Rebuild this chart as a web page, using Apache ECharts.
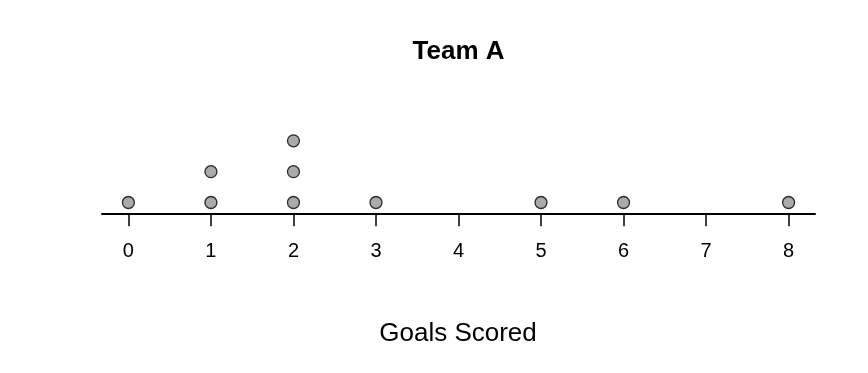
<!DOCTYPE html>
<html>
<head>
<meta charset="utf-8">
<script src="https://cdn.jsdelivr.net/npm/echarts@6/dist/echarts.min.js"></script>
<style>html,body{margin:0;padding:0;background:#fff}#c{width:868px;height:373px}</style>
</head>
<body>
<div id="c"></div>
<script>
const chartTitle = "Team A";
const axisTitle = "Goals Scored";
const tickValues = [0, 1, 2, 3, 4, 5, 6, 7, 8];
const goalsScored = [0, 1, 1, 2, 2, 2, 3, 5, 6, 8];

// stack repeated values into dot-plot levels
const counts = {};
const points = goalsScored.map(v => {
  counts[v] = (counts[v] || 0) + 1;
  return [v, counts[v]];
});

const FONT = "Liberation Sans, Arial, Helvetica, sans-serif";
const chart = echarts.init(document.getElementById('c'), null, {renderer: 'canvas'});
chart.setOption({
  animation: false,
  backgroundColor: '#ffffff',
  title: [
    {text: chartTitle, left: 458.5, top: 39, textAlign: 'center', padding: 0,
     textStyle: {fontFamily: FONT, fontSize: 26, fontWeight: 'bold', color: '#000'}},
    {text: axisTitle, left: 458, top: 321, textAlign: 'center', padding: 0,
     textStyle: {fontFamily: FONT, fontSize: 26, fontWeight: 'normal', color: '#000'}}
  ],
  grid: {left: 102, width: 713, top: 110, height: 103.3},
  xAxis: {
    type: 'value', min: -0.32, max: 8.32,
    axisLine: {show: true, onZero: false, lineStyle: {color: '#000', width: 2}},
    axisTick: {show: true, customValues: tickValues, length: 13, inside: false, lineStyle: {color: '#000', width: 1.5}},
    axisLabel: {show: true, customValues: tickValues, margin: 38, verticalAlign: 'middle',
      fontFamily: FONT, fontSize: 20, color: '#000'},
    splitLine: {show: false}
  },
  yAxis: {
    type: 'value', min: 0.65, max: 4, show: false
  },
  series: [{
    type: 'scatter',
    data: points,
    symbol: 'circle',
    symbolSize: 12,
    itemStyle: {color: '#959595', borderColor: '#000', borderWidth: 1.3}
  }]
});
</script>
</body>
</html>
